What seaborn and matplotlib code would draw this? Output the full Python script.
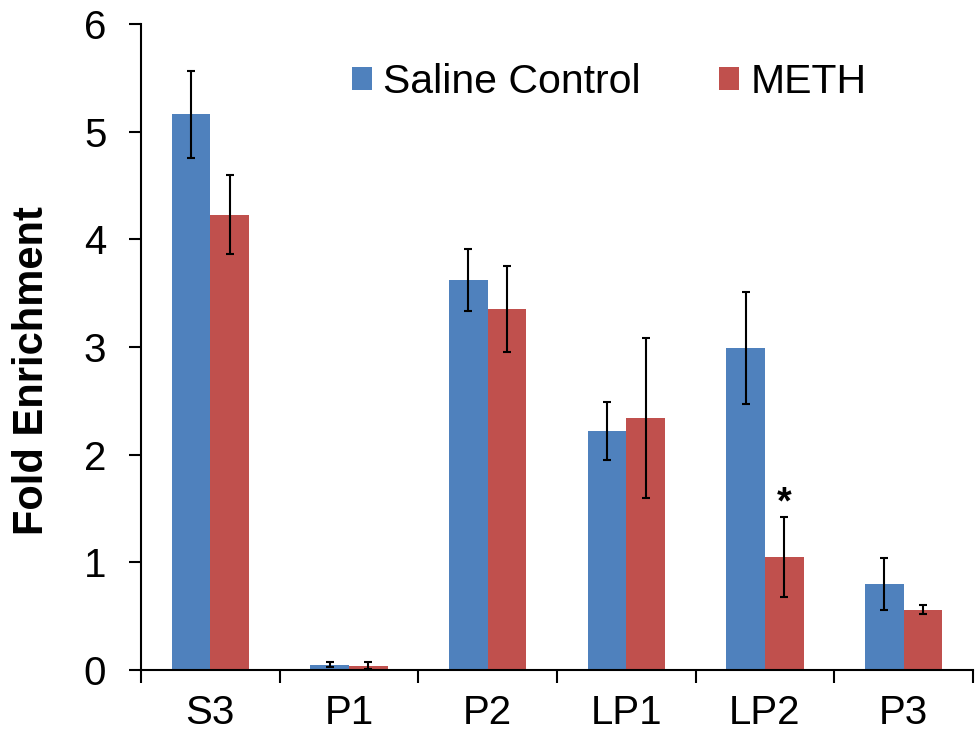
import matplotlib
matplotlib.use("Agg")
import matplotlib.pyplot as plt
import seaborn as sns
import pandas as pd
import numpy as np

categories = ["S3", "P1", "P2", "LP1", "LP2", "P3"]
groups = ["Saline Control", "METH"]
saline = [5.16, 0.05, 3.62, 2.22, 2.99, 0.80]
saline_err = [0.40, 0.02, 0.29, 0.27, 0.52, 0.24]
meth = [4.23, 0.04, 3.35, 2.34, 1.05, 0.56]
meth_err = [0.37, 0.03, 0.40, 0.74, 0.37, 0.04]
colors = ["#4F81BD", "#C0504D"]

sns.set_theme(style="white")
plt.rcParams["font.family"] = ["Liberation Sans", "DejaVu Sans"]
plt.rcParams["text.color"] = "black"
plt.rcParams["axes.labelcolor"] = "black"
plt.rcParams["xtick.color"] = "black"
plt.rcParams["ytick.color"] = "black"

df = pd.DataFrame({
    "Fraction": categories * 2,
    "Group": [groups[0]] * len(categories) + [groups[1]] * len(categories),
    "Value": saline + meth,
})

fig = plt.figure(figsize=(9.76, 7.36), dpi=100)
ax = fig.add_axes([141 / 976, 66 / 736, 832 / 976, 646 / 736])

sns.barplot(data=df, x="Fraction", y="Value", hue="Group", order=categories,
            hue_order=groups, palette=colors, width=0.56, errorbar=None,
            saturation=1, linewidth=0, ax=ax, legend=True)

errs = [saline_err, meth_err]
for cont, err in zip(ax.containers, errs):
    xs = [b.get_x() + b.get_width() / 2 for b in cont]
    hs = [b.get_height() for b in cont]
    ax.errorbar(xs, hs, yerr=err, fmt="none", ecolor="black", elinewidth=1.5,
                capsize=3.2, capthick=1.5, zorder=5)

# significance marker on LP2 METH
lp2 = categories.index("LP2")
bar = ax.containers[1][lp2]
ax.text(bar.get_x() + bar.get_width() / 2, meth[lp2] + meth_err[lp2] + 0.03, "*",
        ha="center", va="baseline", fontsize=27, fontweight="bold", color="black")

ax.set_ylim(0, 6)
ax.set_xlim(-0.5, len(categories) - 0.5)
ax.set_yticks(range(0, 7))
ax.tick_params(axis="y", which="major", direction="out", length=9, width=1.5,
               labelsize=29, pad=16, left=True, colors="black")
ax.tick_params(axis="x", which="major", length=0, labelsize=29, pad=17, colors="black")
ax.set_xticks(np.arange(-0.5, len(categories), 1.0), minor=True)
ax.tick_params(axis="x", which="minor", direction="out", length=9, width=1.5, bottom=True,
               colors="black")

for s in ["top", "right"]:
    ax.spines[s].set_visible(False)
for s in ["left", "bottom"]:
    ax.spines[s].set_color("black")
    ax.spines[s].set_linewidth(1.5)

ax.set_xlabel("")
ax.set_ylabel("Fold Enrichment", fontsize=30, fontweight="bold", color="black")
ax.yaxis.label.set_va("center")
ax.yaxis.set_label_coords(-0.131, 0.464)

handles, labels = ax.get_legend_handles_labels()
leg = ax.legend(handles, labels, loc="center", bbox_to_anchor=(609 / 976, 1 - 82 / 736),
                bbox_transform=fig.transFigure, ncol=2, frameon=False, fontsize=29.5,
                handlelength=0.5, handleheight=0.5, handletextpad=0.27,
                columnspacing=1.9, borderpad=0, borderaxespad=0)
for t in leg.get_texts():
    t.set_color("black")

fig.savefig("out.png", dpi=100)
